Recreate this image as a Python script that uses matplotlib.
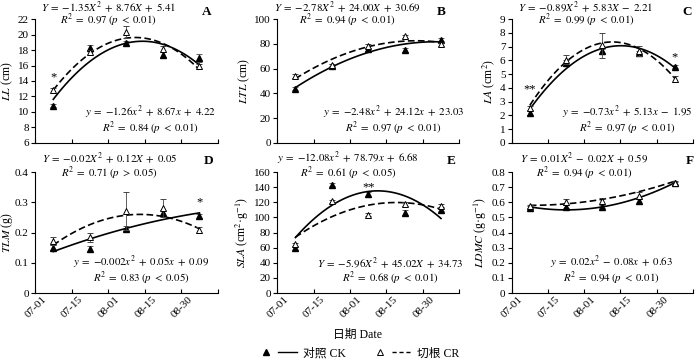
import numpy as np
import matplotlib
matplotlib.use('Agg')
import matplotlib.pyplot as plt
from matplotlib.lines import Line2D
from matplotlib.legend_handler import HandlerTuple
from matplotlib.transforms import ScaledTranslation
from matplotlib.ticker import FuncFormatter

plt.rcParams['font.family'] = ['Liberation Serif', 'Noto Sans CJK SC']
plt.rcParams['mathtext.fontset'] = 'stix'

dates = ["07-01", "07-15", "08-01", "08-15", "08-30"]

# LL (cm)
ll_ck = [10.8, 18.3, 18.9, 17.4, 17.0]
ll_ck_err = [0.2, 0.3, 0.3, 0.3, 0.5]
ll_cr = [12.8, 17.7, 20.3, 18.1, 15.9]
ll_cr_err = [0.3, 0.3, 0.8, 0.4, 0.3]
ll_fit_ck = [-1.26, 8.67, 4.22]
ll_fit_cr = [-1.35, 8.76, 5.41]

# LTL (cm)
ltl_ck = [43.8, 62.3, 75.5, 75.3, 83.5]
ltl_ck_err = [1.0, 1.5, 1.5, 1.5, 1.5]
ltl_cr = [53.8, 63.0, 78.5, 86.0, 79.5]
ltl_cr_err = [1.5, 1.0, 1.5, 1.5, 1.5]
ltl_fit_ck = [-2.48, 24.12, 23.03]
ltl_fit_cr = [-2.78, 24.00, 30.69]

# LA (cm2)
la_ck = [2.2, 5.8, 6.7, 6.5, 5.55]
la_ck_err = [0.15, 0.2, 0.15, 0.15, 0.1]
la_cr = [2.55, 6.05, 7.1, 6.7, 4.65]
la_cr_err = [0.15, 0.35, 0.9, 0.35, 0.2]
la_fit_ck = [-0.73, 5.13, -1.95]
la_fit_cr = [-0.89, 5.83, -2.21]

# TLM (g)
tlm_ck = [0.15, 0.145, 0.213, 0.265, 0.255]
tlm_ck_err = [0.008, 0.01, 0.008, 0.01, 0.008]
tlm_cr = [0.172, 0.185, 0.272, 0.282, 0.208]
tlm_cr_err = [0.012, 0.015, 0.063, 0.03, 0.01]
tlm_fit_ck = [-0.00325, 0.0515, 0.0888]
tlm_fit_cr = [-0.018, 0.1215, 0.055]

# SLA (cm2 g-1)
sla_ck = [59.5, 143.5, 130.5, 106.5, 110.0]
sla_ck_err = [2, 2, 3, 3, 2]
sla_cr = [64.5, 121.5, 103.5, 117.5, 115.5]
sla_cr_err = [2, 2, 2, 3, 2]
sla_fit_ck = [-12.08, 78.79, 6.68]
sla_fit_cr = [-5.96, 45.02, 34.73]

# LDMC (g g-1)
ldmc_ck = [0.565, 0.57, 0.57, 0.61, 0.725]
ldmc_ck_err = [0.008, 0.01, 0.01, 0.02, 0.01]
ldmc_cr = [0.575, 0.60, 0.61, 0.645, 0.73]
ldmc_cr_err = [0.01, 0.02, 0.02, 0.02, 0.01]
ldmc_fit_ck = [0.02, -0.08, 0.63]
ldmc_fit_cr = [0.01, -0.02, 0.59]


def eq(s):
    # math text with word-like spacing between terms
    return '$' + s.replace(' ', r'\;') + '$'


panels = [
    dict(letter='A', ylabel=r'$LL$ (cm)', ylim=(6, 22), step=2,
         ck=ll_ck, ck_err=ll_ck_err, cr=ll_cr, cr_err=ll_cr_err,
         fit_ck=ll_fit_ck, fit_cr=ll_fit_cr,
         top=['Y = {-}1.35X^2 + 8.76X + 5.41', 'R^2 = 0.97 (p < 0.01)'],
         bot=['y = {-}1.26x^2 + 8.67x + 4.22', 'R^2 = 0.84 (p < 0.01)'],
         topx=0.40, botx=0.63, letx=0.94, stars=[(0, '*', 14.5)]),
    dict(letter='B', ylabel=r'$LTL$ (cm)', ylim=(0, 100), step=20,
         ck=ltl_ck, ck_err=ltl_ck_err, cr=ltl_cr, cr_err=ltl_cr_err,
         fit_ck=ltl_fit_ck, fit_cr=ltl_fit_cr,
         top=['Y = {-}2.78X^2 + 24.00X + 30.69', 'R^2 = 0.94 (p < 0.01)'],
         bot=['y = {-}2.48x^2 + 24.12x + 23.03', 'R^2 = 0.97 (p < 0.01)'],
         topx=0.385, botx=0.64, letx=0.90, stars=[]),
    dict(letter='C', ylabel=r'$LA$ (cm$^2$)', ylim=(0, 9), step=1,
         ck=la_ck, ck_err=la_ck_err, cr=la_cr, cr_err=la_cr_err,
         fit_ck=la_fit_ck, fit_cr=la_fit_cr,
         top=['Y = {-}0.89X^2 + 5.83X - 2.21', 'R^2 = 0.99 (p < 0.01)'],
         bot=['y = {-}0.73x^2 + 5.13x - 1.95', 'R^2 = 0.97 (p < 0.01)'],
         topx=0.41, botx=0.64, letx=0.965, stars=[(0, '**', 3.9), (4, '*', 6.2)]),
    dict(letter='D', ylabel=r'$TLM$ (g)', ylim=(0, 0.4), step=0.1,
         ck=tlm_ck, ck_err=tlm_ck_err, cr=tlm_cr, cr_err=tlm_cr_err,
         fit_ck=tlm_fit_ck, fit_cr=tlm_fit_cr,
         top=['Y = {-}0.02X^2 + 0.12X + 0.05', 'R^2 = 0.71 (p > 0.05)'],
         bot=['y = {-}0.002x^2 + 0.05x + 0.09', 'R^2 = 0.83 (p < 0.05)'],
         topx=0.407, botx=0.58, letx=0.95, stars=[(4, '*', 0.30)]),
    dict(letter='E', ylabel=r'$SLA$ (cm$^2$·g$^{-1}$)', ylim=(0, 160), step=20,
         ck=sla_ck, ck_err=sla_ck_err, cr=sla_cr, cr_err=sla_cr_err,
         fit_ck=sla_fit_ck, fit_cr=sla_fit_cr,
         top=['y = {-}12.08x^2 + 78.79x + 6.68', 'R^2 = 0.61 (p < 0.05)'],
         bot=['Y = {-}5.96X^2 + 45.02X + 34.73', 'R^2 = 0.68 (p < 0.01)'],
         topx=0.39, botx=0.62, letx=0.955, stars=[(2, '**', 140)]),
    dict(letter='F', ylabel=r'$LDMC$ (g·g$^{-1}$)', ylim=(0, 0.8), step=0.1,
         ck=ldmc_ck, ck_err=ldmc_ck_err, cr=ldmc_cr, cr_err=ldmc_cr_err,
         fit_ck=ldmc_fit_ck, fit_cr=ldmc_fit_cr,
         top=['Y = 0.01X^2 - 0.02X + 0.59', 'R^2 = 0.94 (p < 0.01)'],
         bot=['y = 0.02x^2 - 0.08x + 0.63', 'R^2 = 0.94 (p < 0.01)'],
         topx=0.40, botx=0.55, letx=0.98, stars=[]),
]

lefts = [0.05, 0.396, 0.731]
widths = [0.261, 0.26, 0.259]
rows = [(0.603, 0.344), (0.186, 0.336)]

fig = plt.figure(figsize=(7, 3.6), dpi=100)
x = np.arange(1, 6)
xs = np.linspace(1, 5, 100)

for i, p in enumerate(panels):
    r, c = divmod(i, 3)
    ax = fig.add_axes([lefts[c], rows[r][0], widths[c], rows[r][1]])

    ax.plot(xs, np.polyval(p['fit_ck'], xs), color='black', lw=1.2)
    ax.plot(xs, np.polyval(p['fit_cr'], xs), color='black', lw=1.2,
            ls=(0, (4, 2)))
    ax.errorbar(x, p['ck'], yerr=p['ck_err'], fmt='^', ms=4.5, color='black',
                mfc='black', mec='black', ecolor='#444444', elinewidth=0.6,
                capsize=2, capthick=0.6, zorder=3)
    ax.errorbar(x, p['cr'], yerr=p['cr_err'], fmt='^', ms=4.5, color='black',
                mfc='white', mec='black', mew=0.7, ecolor='#444444',
                elinewidth=0.6, capsize=2, capthick=0.6, zorder=4)
    for idx, s, yy in p['stars']:
        ax.text(x[idx], yy, s, ha='center', va='center', fontsize=9)

    lo, hi = p['ylim']
    ax.set_xlim(0.5, 5.5)
    ax.set_ylim(lo, hi)
    ax.set_yticks(np.arange(lo, hi + p['step'] / 2, p['step']))
    ax.yaxis.set_major_formatter(FuncFormatter(lambda v, _: f"{round(v, 3):g}"))
    ax.set_xticks(x)
    ax.set_xticks(np.arange(0.5, 6, 1), minor=True)
    ax.tick_params(axis='x', which='major', length=0, pad=1, labelsize=8)
    ax.tick_params(axis='x', which='minor', direction='in', length=3, width=0.8)
    ax.tick_params(axis='y', direction='out', length=3, width=0.8, labelsize=8, pad=1.5)
    if r == 1:
        ax.set_xticklabels(dates, rotation=45, ha='right')
        off = ScaledTranslation(-0.05, 0, fig.dpi_scale_trans)
        for lab in ax.get_xticklabels():
            lab.set_transform(lab.get_transform() + off)
    else:
        ax.set_xticklabels([])
    for side in ['top', 'right']:
        ax.spines[side].set_visible(False)
    for side in ['left', 'bottom']:
        ax.spines[side].set_linewidth(0.8)
    ax.set_ylabel(p['ylabel'], fontsize=8.5, labelpad=2)
    if i == 3:
        ax.yaxis.set_label_coords(-0.108, 0.5)

    top_y, r2_y = (1.1, 0.985) if r == 0 else (1.115, 0.985)
    ax.text(p['topx'], top_y, eq(p['top'][0]), transform=ax.transAxes,
            ha='center', va='center', fontsize=7.8)
    ax.text(p['topx'], r2_y, eq(p['top'][1]), transform=ax.transAxes,
            ha='center', va='center', fontsize=7.8)
    b1, b2 = (0.245, 0.118) if r == 0 else (0.25, 0.122)
    ax.text(p['botx'], b1, eq(p['bot'][0]), transform=ax.transAxes,
            ha='center', va='center', fontsize=7.8)
    ax.text(p['botx'], b2, eq(p['bot'][1]), transform=ax.transAxes,
            ha='center', va='center', fontsize=7.8)
    ax.text(p['letx'], 1.06 if r == 0 else 1.09, p['letter'], transform=ax.transAxes,
            ha='center', va='center', fontsize=9.5, fontweight='bold')

fig.text(0.511, 0.07, '日期 Date', ha='center', va='center', fontsize=8.5)

h_ck_m = Line2D([], [], ls='none', marker='^', ms=4, color='black')
h_ck_l = Line2D([], [], color='black', lw=1.0)
h_cr_m = Line2D([], [], ls='none', marker='^', ms=4, mfc='white', mec='black', mew=0.7)
h_cr_l = Line2D([], [], color='black', lw=1.0, ls=(0, (3, 2)))
fig.legend([(h_ck_m, h_ck_l), (h_cr_m, h_cr_l)], ['对照 CK', '切根 CR'],
           handler_map={tuple: HandlerTuple(ndivide=None, pad=0.2)},
           loc='center', bbox_to_anchor=(0.511, 0.018), ncol=2, frameon=False,
           fontsize=8.5, handlelength=3.5, columnspacing=2.0, handletextpad=0.5,
           borderaxespad=0, borderpad=0)

fig.savefig('out.png', dpi=100)
